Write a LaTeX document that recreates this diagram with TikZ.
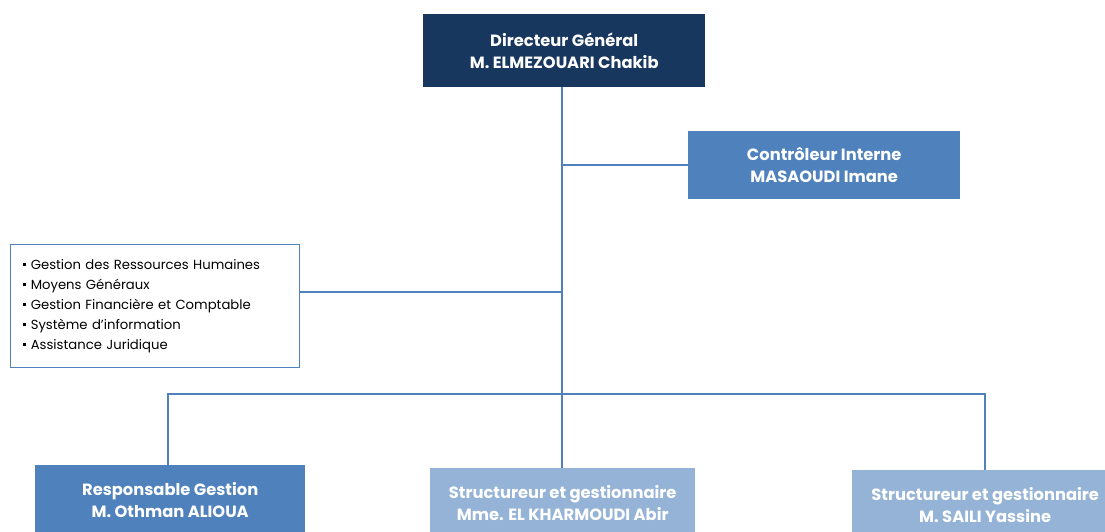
\documentclass[tikz,border=0pt]{standalone}
\usepackage{fontspec}
\setmainfont{Poppins}
\usetikzlibrary{positioning}
\definecolor{navy}{HTML}{17375E}
\definecolor{midblue}{HTML}{4F81BD}
\definecolor{paleblue}{HTML}{95B3D7}
\tikzset{auto, x=1pt, y=-1pt, node distance=1cm, font=\fontsize{13.2}{20}\selectfont}
\tikzstyle{post} = [rectangle, anchor=north west, inner sep=0pt, text=white, align=center, font=\fontsize{16.3}{22}\selectfont\bfseries]
\tikzstyle{tasks} = [draw=midblue, line width=1pt, fill=white, rectangle, anchor=north west, inner xsep=12pt, inner ysep=0pt, align=left, text width=265pt, minimum height=123pt]
\tikzstyle{link} = [draw=midblue, line width=1.6pt]
\newcommand{\puce}{\raisebox{0.22em}{\rule{3.3pt}{3.3pt}}\hspace{5pt}}

\begin{document}
\begin{tikzpicture}
    \useasboundingbox (0,0) rectangle (1105,531);
    \node [post, fill=navy, minimum width=282pt, minimum height=73pt] (dg) at (423,14) {Directeur Général\\M. ELMEZOUARI Chakib};
    \node [post, fill=midblue, minimum width=272pt, minimum height=68pt] (ci) at (688,131) {Contrôleur Interne\\MASAOUDI Imane};
    \node [tasks] (services) at (10,244) {\puce Gestion des Ressources Humaines\\\puce Moyens Généraux\\\puce Gestion Financière et Comptable\\\puce Système d’information\\\puce Assistance Juridique};
    \node [post, fill=midblue, minimum width=270pt, minimum height=70pt] (rg) at (35,465) {Responsable Gestion\\M. Othman ALIOUA};
    \node [post, fill=paleblue, minimum width=265pt, minimum height=70pt] (sg1) at (430,468) {Structureur et gestionnaire\\Mme. EL KHARMOUDI Abir};
    \node [post, fill=paleblue, minimum width=266pt, minimum height=70pt] (sg2) at (852,470) {Structureur et gestionnaire\\M. SAILI Yassine};
    \coordinate (bus) at (562,394);
    \coordinate (tasks_out) at ([yshift=14pt]services.east);

    \draw [link] (dg.south -| bus) -- (bus);
    \draw [link] (ci.west) -- (ci.west -| bus);
    \draw [link] (tasks_out) -- (tasks_out -| bus);
    \draw [link] (bus) -- (sg1.north -| bus);
    \draw [link] ([xshift=-2pt]rg.north) |- (bus) -| (sg2.north);
\end{tikzpicture}
\end{document}
